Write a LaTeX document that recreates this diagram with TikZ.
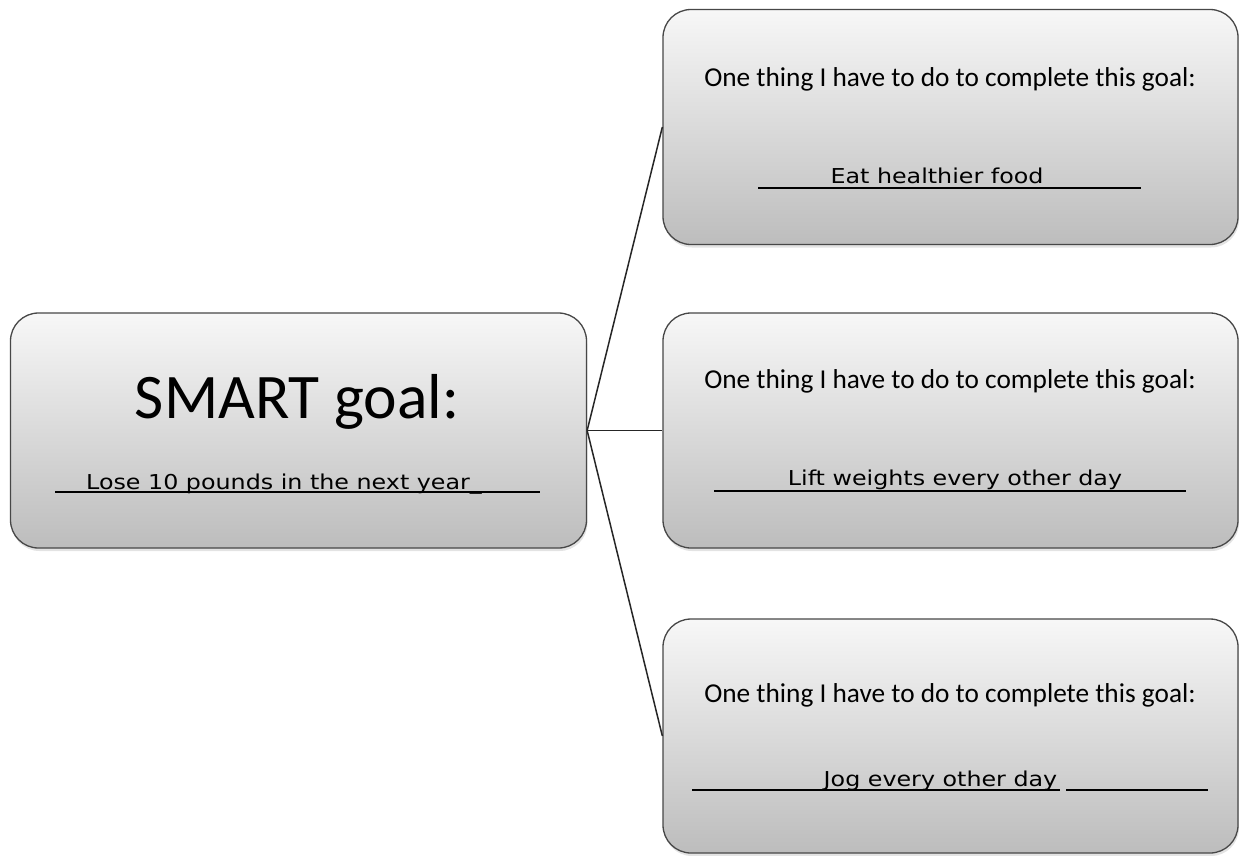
\documentclass[tikz,border=0pt]{standalone}
\usepackage{fontspec}
\setmainfont{Carlito}
\newfontfamily\comic[FakeStretch=1.16]{DejaVu Sans}
\usetikzlibrary{shadows}
\begin{document}
\begin{tikzpicture}[x=1pt,y=-1pt,
  box/.style={draw=black!72, line width=1.3pt, rounded corners=28pt,
    top color=white!97!black, bottom color=white!74!black,
    minimum width=576pt, minimum height=235pt, inner sep=0pt,
    drop shadow={shadow xshift=1pt, shadow yshift=-3pt, opacity=0.22}},
  conn/.style={line width=1.5pt, black!85},
  lbl/.style={anchor=base, inner sep=0pt, font=\fontsize{27.3}{31}\selectfont},
  big/.style={anchor=base, inner sep=0pt, font=\fontsize{63.5}{70}\selectfont},
  ans/.style={anchor=base, inner sep=0pt, font=\comic\fontsize{20.5}{24}\selectfont},
  blank/.style={line width=1.6pt, black}]
\useasboundingbox (0,0) rectangle (1239,855);
% boxes
\node[box] (L) at (298.5,430.5) {};
\node[box, minimum width=575pt] (R1) at (950.5,127) {};
\node[box, minimum width=575pt] (R2) at (950.5,430.5) {};
\node[box, minimum width=575pt, minimum height=234pt] (R3) at (950.5,736) {};
% connectors
\draw[conn] (L.east) -- (R1.west);
\draw[conn] (L.east) -- (R2.west);
\draw[conn] (L.east) -- (R3.west);
% left box text
\node[big] (t0) at (297,418) {SMART goal:};
\node[ans] (a0) at (284,489) {Lose 10 pounds in the next year\_};
\draw[blank] (55,492) -- (540,492);
% right box texts
\node[lbl] (t1) at (950,86) {One thing I have to do to complete this goal:};
\node[ans] (a1) at (937,183) {Eat healthier food};
\draw[blank] (758,188) -- (1141,188);
\node[lbl] (t2) at (950,388) {One thing I have to do to complete this goal:};
\node[ans] (a2) at (955,485) {Lift weights every other day};
\draw[blank] (714,491) -- (1186,491);
\node[lbl] (t3) at (950,702) {One thing I have to do to complete this goal:};
\node[ans] (a3) at (940.5,786) {Jog every other day};
\draw[blank] (692,790) -- (1060,790);
\draw[blank] (1066,790) -- (1208,790);
\end{tikzpicture}
\end{document}
